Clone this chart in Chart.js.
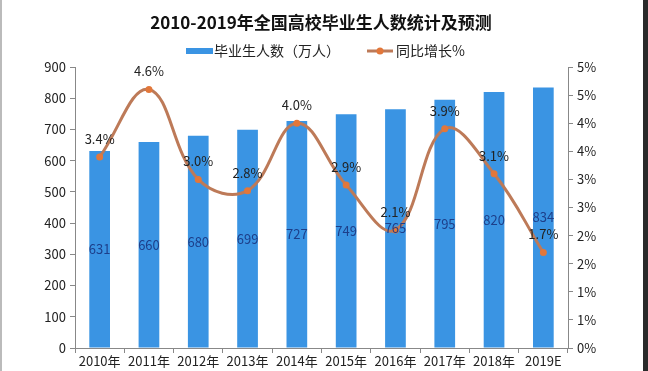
<!DOCTYPE html>
<html>
<head>
<meta charset="utf-8">
<script src="https://cdn.jsdelivr.net/npm/chart.js@4/dist/chart.umd.min.js"></script>
<style>
  html, body { margin: 0; padding: 0; background: #fff; }
  canvas { display: block; }
</style>
</head>
<body>
<canvas id="gradChart" width="648" height="371"></canvas>
<script>
const years = ['2010年', '2011年', '2012年', '2013年', '2014年', '2015年', '2016年', '2017年', '2018年', '2019E'];
const graduates = [631, 660, 680, 699, 727, 749, 765, 795, 820, 834]; // 万人
const growth = [3.4, 4.6, 3.0, 2.8, 4.0, 2.9, 2.1, 3.9, 3.1, 1.7];    // %

const FONT = '"Noto Sans CJK SC", "Noto Sans", sans-serif';
const BAR_COLOR = '#3a94e3';
const LINE_COLOR = '#bd7a58';
const POINT_COLOR = '#e2773a';

// title, legend, frame and value labels drawn on the canvas
const decorPlugin = {
  id: 'decor',
  beforeDraw(chart) {
    const { ctx, width, height } = chart;
    ctx.save();
    ctx.fillStyle = '#fff';
    ctx.fillRect(0, 0, width, height);
    ctx.restore();
  },
  afterDatasetsDraw(chart) {
    const { ctx } = chart;
    ctx.save();
    ctx.textAlign = 'center';
    ctx.textBaseline = 'middle';

    // bar values, middle of each bar
    const barMeta = chart.getDatasetMeta(1);
    ctx.font = '13px ' + FONT;
    ctx.fillStyle = '#1d3f8a';
    barMeta.data.forEach((bar, i) => {
      ctx.fillText(String(graduates[i]), bar.x, (bar.y + bar.base) / 2);
    });

    // growth labels above the points
    const lineMeta = chart.getDatasetMeta(0);
    ctx.fillStyle = '#222';
    lineMeta.data.forEach((pt, i) => {
      ctx.fillText(growth[i].toFixed(1) + '%', pt.x, pt.y - 18);
    });
    ctx.restore();
  },
  afterDraw(chart) {
    const { ctx, width, height } = chart;
    ctx.save();

    // title
    ctx.font = 'bold 17px ' + FONT;
    ctx.fillStyle = '#111';
    ctx.textAlign = 'center';
    ctx.textBaseline = 'middle';
    ctx.fillText('2010-2019年全国高校毕业生人数统计及预测', 321, 23);

    // legend
    ctx.font = '14px ' + FONT;
    ctx.textAlign = 'left';
    const ly = 51;
    ctx.fillStyle = BAR_COLOR;
    ctx.fillRect(186, ly - 3, 27, 6);
    ctx.fillStyle = '#222';
    ctx.fillText('毕业生人数（万人）', 214, ly);

    ctx.strokeStyle = LINE_COLOR;
    ctx.lineWidth = 3;
    ctx.beginPath();
    ctx.moveTo(367, ly);
    ctx.lineTo(393, ly);
    ctx.stroke();
    ctx.fillStyle = POINT_COLOR;
    ctx.beginPath();
    ctx.arc(380, ly, 3.5, 0, Math.PI * 2);
    ctx.fill();
    ctx.fillStyle = '#222';
    ctx.fillText('同比增长%', 396, ly);

    // frame
    ctx.fillStyle = '#bbb';
    ctx.fillRect(0, 0, 2, height);
    ctx.fillStyle = '#2a2a2a';
    ctx.fillRect(643, 0, 5, height);
    ctx.restore();
  }
};

new Chart(document.getElementById('gradChart').getContext('2d'), {
  data: {
    labels: years,
    datasets: [
      {
        type: 'line',
        label: '同比增长%',
        data: growth,
        yAxisID: 'y1',
        order: 0,
        borderColor: LINE_COLOR,
        borderWidth: 3,
        tension: 0.4,
        pointRadius: 3.5,
        pointBackgroundColor: POINT_COLOR,
        pointBorderWidth: 0,
        fill: false,
        clip: false
      },
      {
        type: 'bar',
        label: '毕业生人数（万人）',
        data: graduates,
        yAxisID: 'y',
        order: 1,
        backgroundColor: BAR_COLOR,
        categoryPercentage: 0.84,
        barPercentage: 0.5
      }
    ]
  },
  options: {
    responsive: false,
    animation: false,
    layout: { padding: { top: 67, bottom: 0, left: 0, right: 0 } },
    plugins: { legend: { display: false }, title: { display: false }, tooltip: { enabled: false } },
    scales: {
      x: {
        offset: true,
        afterFit: (s) => { s.height = 23; },
        grid: { offset: true, drawOnChartArea: false, tickLength: 5, color: '#888' },
        border: { display: true, color: '#888' },
        ticks: { autoSkip: false, maxRotation: 0, padding: 0, color: '#222', font: { family: FONT, size: 13 } }
      },
      y: {
        position: 'left',
        min: 0,
        max: 900,
        afterFit: (s) => { s.width = 75; },
        grid: { drawOnChartArea: false, tickLength: 5, color: '#888' },
        border: { display: true, color: '#888' },
        ticks: { stepSize: 100, padding: 4, color: '#222', font: { family: FONT, size: 13 } }
      },
      y1: {
        position: 'right',
        min: 0,
        max: 5,
        afterFit: (s) => { s.width = 80; },
        grid: { drawOnChartArea: false, tickLength: 5, color: '#888' },
        border: { display: true, color: '#888' },
        ticks: {
          stepSize: 0.5,
          padding: 4,
          color: '#222',
          font: { family: FONT, size: 13 },
          callback: (v) => Math.round(v) + '%'
        }
      }
    }
  },
  plugins: [decorPlugin]
});
</script>
</body>
</html>
